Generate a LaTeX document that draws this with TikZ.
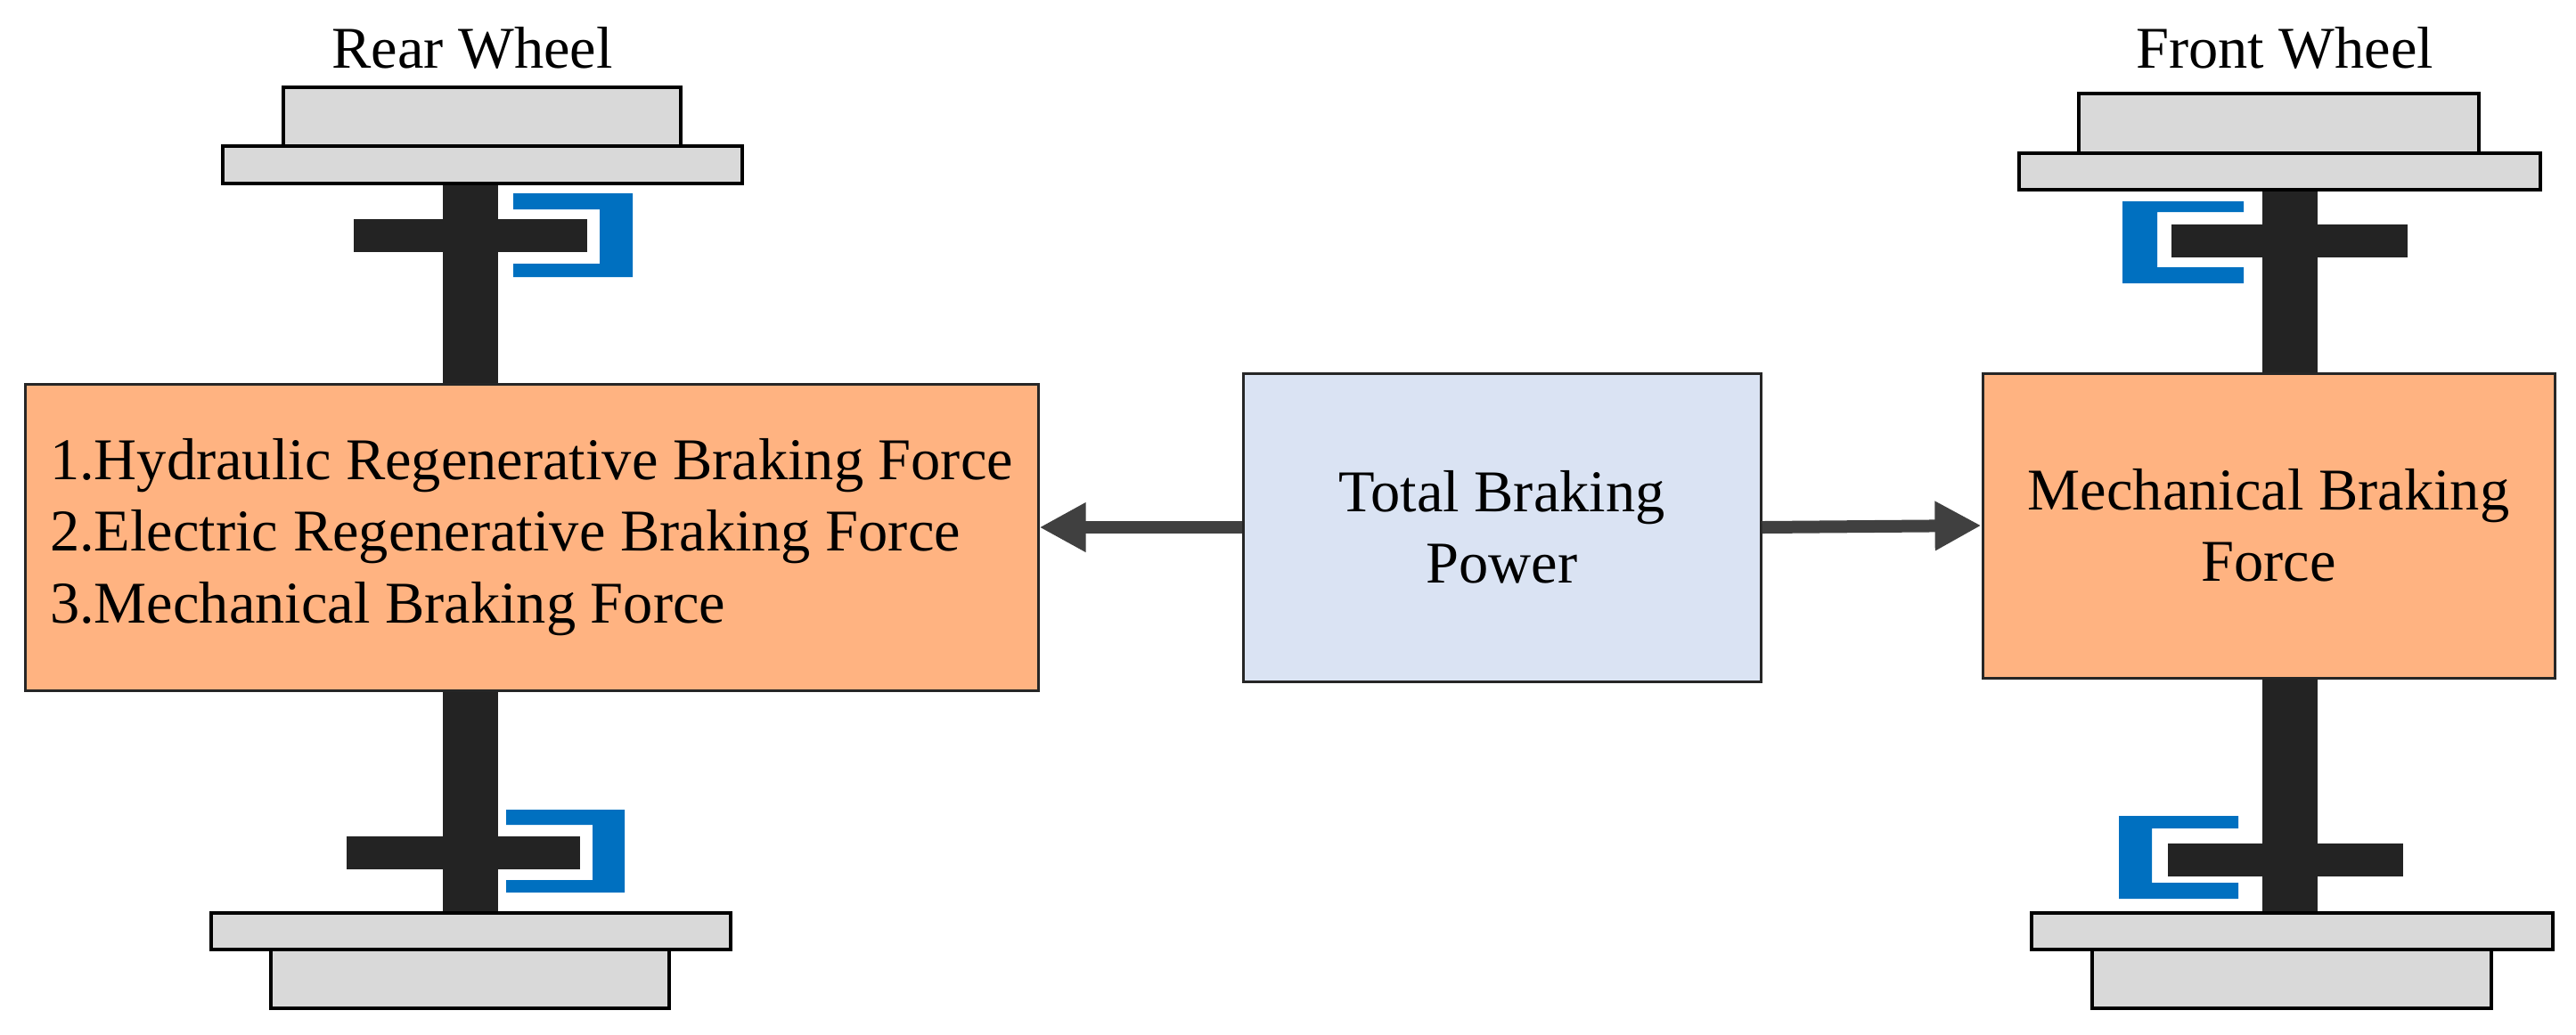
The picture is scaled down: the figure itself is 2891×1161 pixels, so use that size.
\documentclass[tikz,border=0pt]{standalone}
\usepackage{fontspec}
\setmainfont{Liberation Serif}
\usetikzlibrary{arrows.meta,backgrounds}
\definecolor{forcefill}{HTML}{FFB381}
\definecolor{totalfill}{HTML}{DAE3F3}
\definecolor{rimfill}{HTML}{D9D9D9}
\definecolor{caliperblue}{HTML}{0070C0}
\definecolor{axlegray}{HTML}{232323}
\definecolor{arrowgray}{HTML}{404040}
\begin{document}
\begin{tikzpicture}[x=0.1mm,y=-0.1mm,font=\fontsize{18.9pt}{22.8pt}\selectfont,
  block/.style={draw=black!85,line width=0.3mm,inner sep=0pt,align=center},
  rim/.style={draw=black,line width=0.45mm,fill=rimfill,inner sep=0pt},
  axle/.style={draw=axlegray,line width=6.2mm},
  disc/.style={fill=axlegray,inner sep=0pt,minimum height=3.7mm},
  caliper/.style={fill=caliperblue},
  flow/.style={draw=arrowgray,line width=1.4mm,-{Triangle[length=5.2mm,width=5.2mm]}}]
\useasboundingbox (0,0) rectangle (2891,1161);
\node (forces) at (596.5,603) [block,fill=forcefill,minimum width=113.7mm,minimum height=34.4mm,align=left] {1.Hydraulic Regenerative Braking Force\\2.Electric Regenerative Braking Force\\3.Mechanical Braking Force};
\node (total) at (1685.5,592) [block,fill=totalfill,minimum width=58.1mm,minimum height=34.6mm] {Total Braking\\Power};
\node (mech) at (2546,590) [block,fill=forcefill,minimum width=64.2mm,minimum height=34.2mm] {Mechanical Braking\\Force};
\node (rear-label) at (530,76) [anchor=base] {Rear Wheel};
\node (front-label) at (2564,76) [anchor=base] {Front Wheel};
\node (rear-top-tire) at (541,131) [rim,minimum width=44.6mm,minimum height=6.6mm] {};
\node (rear-top-rim) at (541.5,185) [rim,minimum width=58.3mm,minimum height=4.2mm] {};
\node (rear-bottom-rim) at (528.5,1045.5) [rim,minimum width=58.3mm,minimum height=4.1mm] {};
\node (rear-bottom-tire) at (527.5,1099) [rim,minimum width=44.7mm,minimum height=6.6mm] {};
\node (front-top-tire) at (2557.5,138.5) [rim,minimum width=44.9mm,minimum height=6.7mm] {};
\node (front-top-rim) at (2558.5,192.5) [rim,minimum width=58.5mm,minimum height=4.1mm] {};
\node (front-bottom-rim) at (2572.5,1045.5) [rim,minimum width=58.5mm,minimum height=4.1mm] {};
\node (front-bottom-tire) at (2572,1099) [rim,minimum width=44.8mm,minimum height=6.6mm] {};
\coordinate (rear-axle) at (528,0);
\coordinate (front-axle) at (2569.5,0);
\begin{scope}[on background layer]
\draw[axle] (rear-axle |- rear-top-rim.south) -- (rear-axle |- forces.north);
\draw[axle] (rear-axle |- forces.south) -- (rear-axle |- rear-bottom-rim.north);
\draw[axle] (front-axle |- front-top-rim.south) -- (front-axle |- mech.north);
\draw[axle] (front-axle |- mech.south) -- (front-axle |- front-bottom-rim.north);
\node (rear-top-disc) at (528,264.5) [disc,minimum width=26.2mm] {};
\node (rear-bottom-disc) at (520,957) [disc,minimum width=26.2mm] {};
\node (front-top-disc) at (2569.5,270.5) [disc,minimum width=26.5mm] {};
\node (front-bottom-disc) at (2565,965) [disc,minimum width=26.4mm] {};
\end{scope}
\fill[caliper] (576,217) -- (710,217) -- (710,311) -- (576,311) -- (576,296) -- (673,296) -- (673,235) -- (576,235) -- cycle;
\fill[caliper] (568,909) -- (701,909) -- (701,1002) -- (568,1002) -- (568,988) -- (665,988) -- (665,926) -- (568,926) -- cycle;
\fill[caliper] (2518,226) -- (2382,226) -- (2382,318) -- (2518,318) -- (2518,300) -- (2421,300) -- (2421,238) -- (2518,238) -- cycle;
\fill[caliper] (2512,916) -- (2378,916) -- (2378,1009) -- (2512,1009) -- (2512,991) -- (2415,991) -- (2415,930) -- (2512,930) -- cycle;
\draw[flow] (total.west) -- (total.west -| forces.east);
\draw[flow] (total.east) -- (mech.west);
\end{tikzpicture}
\end{document}
